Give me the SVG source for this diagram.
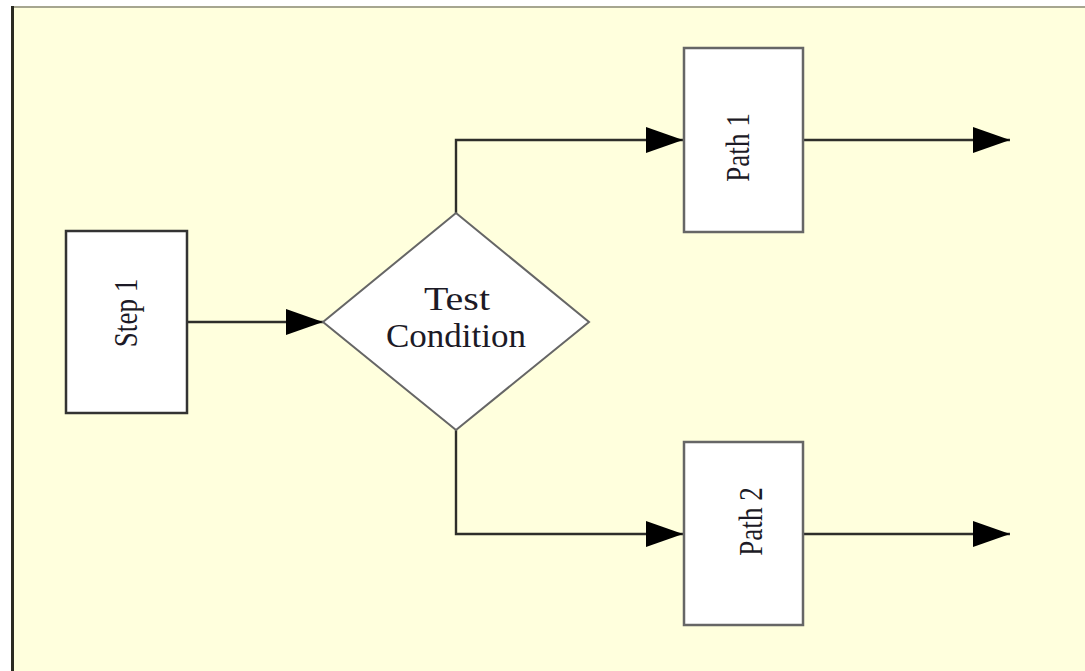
<svg xmlns="http://www.w3.org/2000/svg" width="1085" height="671" viewBox="0 0 1085 671">
  <style>
    .lbl { font-family: "Liberation Serif", "Times New Roman", serif; font-size: 33px; fill: #1c1a26; }
    .box { fill: #ffffff; stroke-width: 2.5; }
    .wire { fill: none; stroke: #2e2e2a; stroke-width: 2.4; marker-end: url(#arrow); }
  </style>
  <defs>
    <marker id="arrow" markerUnits="userSpaceOnUse" markerWidth="38" markerHeight="28" refX="37" refY="13" orient="auto">
      <path d="M0,0 L37,13 L0,26 Z" fill="#000000"/>
    </marker>
  </defs>

  <!-- page frame -->
  <rect x="0" y="0" width="1085" height="671" fill="#ffffff"/>
  <rect x="12" y="7" width="1073" height="664" fill="#ffffdd"/>
  <line x1="11" y1="7" x2="1085" y2="7" stroke="#a6a690" stroke-width="2"/>
  <line x1="12.5" y1="6" x2="12.5" y2="671" stroke="#2a2a22" stroke-width="3"/>

  <!-- connectors -->
  <g id="connectors">
    <path class="wire" d="M187,322 H323"/>
    <path class="wire" d="M456,213 V140 H683"/>
    <path class="wire" d="M803,140 H1010"/>
    <path class="wire" d="M456,430 V534 H683"/>
    <path class="wire" d="M803,534 H1010"/>
  </g>

  <g id="step1">
    <rect class="box" x="66" y="231" width="121" height="182" stroke="#333333"/>
    <text class="lbl" text-anchor="middle" transform="translate(137,313) rotate(-90) scale(0.82,1)">Step 1</text>
  </g>

  <g id="test-condition">
    <polygon points="456,213 589,322 456,430 323,322" fill="#ffffff" stroke="#666666" stroke-width="2"/>
    <text class="lbl" text-anchor="middle" x="457" y="310" textLength="66" lengthAdjust="spacingAndGlyphs">Test</text>
    <text class="lbl" text-anchor="middle" x="456" y="347" textLength="140" lengthAdjust="spacingAndGlyphs">Condition</text>
  </g>

  <g id="path1">
    <rect class="box" x="684" y="48" width="119" height="184" stroke="#666666"/>
    <text class="lbl" text-anchor="middle" transform="translate(749,147.5) rotate(-90) scale(0.82,1)">Path 1</text>
  </g>

  <g id="path2">
    <rect class="box" x="684" y="442" width="119" height="183" stroke="#666666"/>
    <text class="lbl" text-anchor="middle" transform="translate(762,521.5) rotate(-90) scale(0.82,1)">Path 2</text>
  </g>
</svg>
